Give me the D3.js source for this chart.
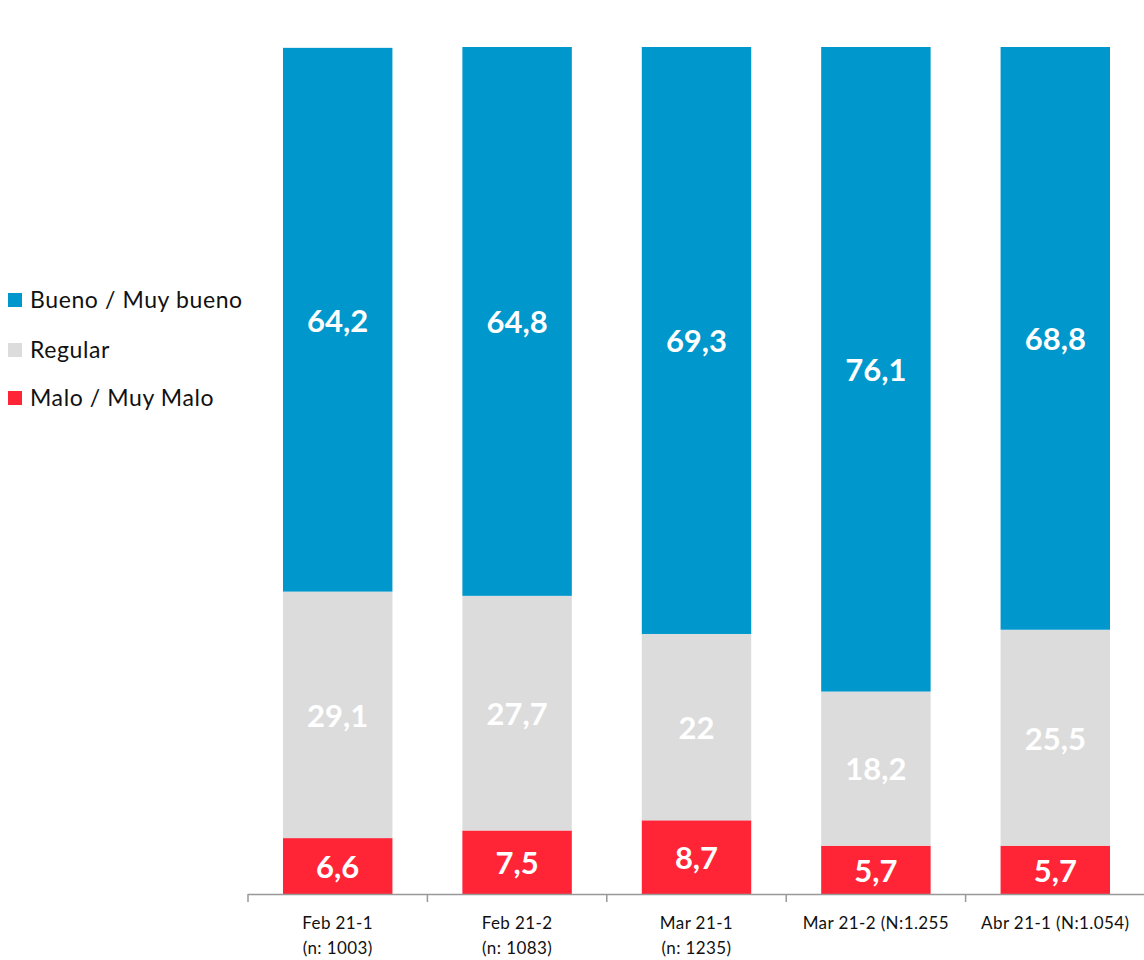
<!DOCTYPE html>
<html><head><meta charset="utf-8">
<script src="https://cdn.jsdelivr.net/npm/d3@7"></script>
<style>body{margin:0;background:#fff}svg{display:block}</style>
</head><body>
<svg id="c" width="1144" height="960"></svg>
<script>
const categories = [["Feb 21-1","(n: 1003)"],["Feb 21-2","(n: 1083)"],["Mar 21-1","(n: 1235)"],["Mar 21-2 (N:1.255"],["Abr 21-1 (N:1.054)"]];
const malo = [6.6, 7.5, 8.7, 5.7, 5.7];
const regular = [29.1, 27.7, 22, 18.2, 25.5];
const bueno = [64.2, 64.8, 69.3, 76.1, 68.8];
const seriesNames = ["Bueno / Muy bueno", "Regular", "Malo / Muy Malo"];
const colors = {"Bueno / Muy bueno":"#0097CC","Regular":"#DCDCDC","Malo / Muy Malo":"#FF2537"};

const svg = d3.select("#c");
const font = "Lato, 'Open Sans', sans-serif";
const x = d3.scaleBand().domain(d3.range(categories.length)).range([248, 1145]).paddingInner(0.39).paddingOuter(0.195);
const y = d3.scaleLinear().domain([0, 100]).range([894, 47]);

const rows = categories.map((c, i) => ({i, "Malo / Muy Malo": malo[i], "Regular": regular[i], "Bueno / Muy bueno": bueno[i]}));
const stack = d3.stack().keys(["Malo / Muy Malo", "Regular", "Bueno / Muy bueno"])(rows);

const g = svg.append("g");
stack.forEach(s => {
  g.selectAll(null).data(s).enter().append("rect")
    .attr("x", d => x(d.data.i)).attr("width", x.bandwidth())
    .attr("y", d => y(d[1])).attr("height", d => y(d[0]) - y(d[1]))
    .attr("fill", colors[s.key]);
  g.selectAll(null).data(s).enter().append("text")
    .attr("x", d => x(d.data.i) + x.bandwidth()/2)
    .attr("y", d => (y(d[0]) + y(d[1]))/2)
    .attr("dy", "0.38em")
    .attr("text-anchor", "middle")
    .attr("font-family", font).attr("font-weight", "bold").attr("font-size", 31)
    .attr("fill", "#fff")
    .text(d => String(d.data[s.key]).replace(".", ","));
});

// axis
const axis = svg.append("g");
axis.append("line").attr("x1", 248).attr("x2", 1144).attr("y1", 894.5).attr("y2", 894.5).attr("stroke", "#999").attr("stroke-width", 1.5);
const tickXs = d3.range(categories.length + 1).map(k => x(0) - x.step()*x.paddingOuter() + k * x.step());
axis.selectAll(null).data(tickXs).enter().append("line")
  .attr("x1", d => d).attr("x2", d => d).attr("y1", 894).attr("y2", 902)
  .attr("stroke", "#999").attr("stroke-width", 1.5);
categories.forEach((lines, i) => {
  const t = axis.append("text").attr("x", x(i) + x.bandwidth()/2).attr("text-anchor", "middle")
    .attr("font-family", font).attr("font-size", 17).attr("letter-spacing", 0.4).attr("fill", "#111");
  lines.forEach((l, j) => t.append("tspan").attr("x", x(i) + x.bandwidth()/2).attr("y", 929 + j*25).text(l));
});

// legend
const leg = svg.append("g");
seriesNames.forEach((n, i) => {
  const ly = [300, 350, 398][i];
  leg.append("rect").attr("x", 8).attr("y", ly - 7).attr("width", 14).attr("height", 14).attr("fill", colors[n]);
  leg.append("text").attr("x", 30).attr("y", ly).attr("dy", "0.36em")
    .attr("font-family", font).attr("font-size", 23).attr("letter-spacing", 0.6).attr("fill", "#111").text(n);
});
</script>
</body></html>
